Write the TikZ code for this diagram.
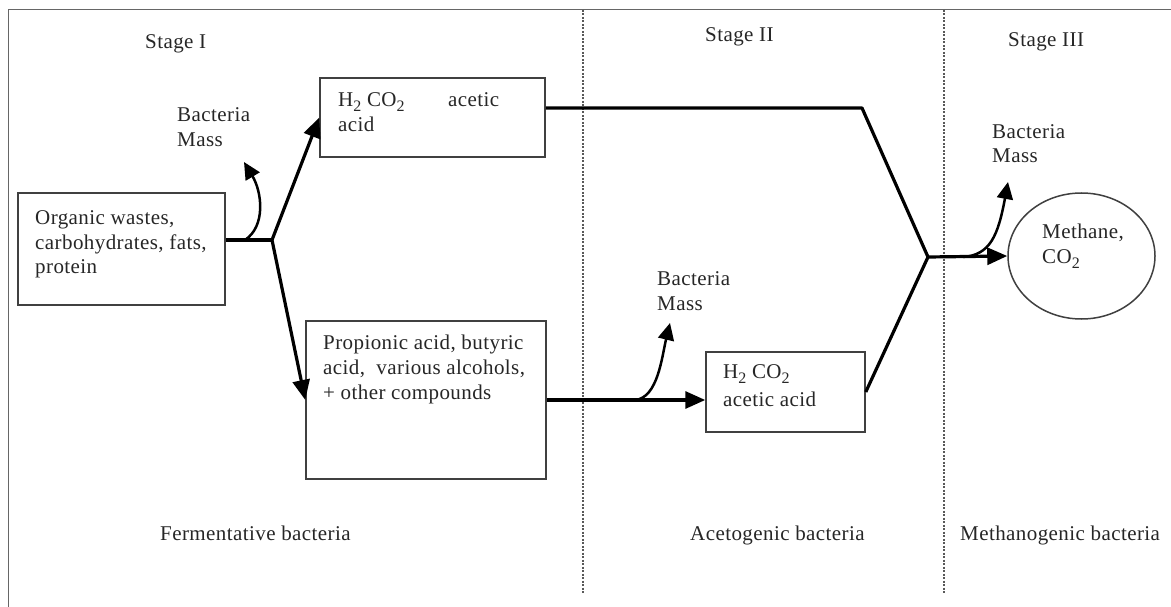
\documentclass[tikz,border=0pt]{standalone}
\usepackage{fontspec}
\setmainfont{Liberation Serif}[LetterSpace=2]
\usetikzlibrary{arrows.meta,shapes.geometric,calc}
\newcommand\lowsub[1]{\raisebox{-5pt}{\fontsize{16}{16}\selectfont #1}}
\begin{document}
\begin{tikzpicture}[x=1pt,y=-1pt,
  txt/.style={font=\fontsize{21}{24}\selectfont, inner sep=0pt, anchor=base west, text=black!85},
  box/.style={draw=black!75, line width=1.5pt, rectangle, inner sep=0pt},
  frameline/.style={draw=black!60, line width=1pt},
  divider/.style={draw=black!65, line width=1.1pt, dash pattern=on 2pt off 1.5pt},
  conn/.style={draw=black, line width=3.2pt},
  arr/.style={conn, -{Triangle[length=20pt,width=17pt]}},
  curvearr/.style={draw=black, line width=2.5pt, -{Triangle[length=17pt,width=16pt]}}
]
\useasboundingbox (0,0) rectangle (1171,607);
% frame and stage dividers
\draw[frameline] (8,607) -- (8,10) -- (1171,10);
\draw[divider] (583,10) -- (583,593);
\draw[divider] (944,10) -- (944,593);

% stage headings
\node[txt] (s1) at (145,49) {Stage I};
\node[txt] (s2) at (705,42) {Stage II};
\node[txt] (s3) at (1008,47) {Stage III};

% boxes
\node[box, minimum width=207pt, minimum height=112pt] (org) at (121.5,249) {};
\node[box, minimum width=225pt, minimum height=79pt] (top) at (432.5,117.5) {};
\node[box, minimum width=240pt, minimum height=158pt] (prop) at (426,400) {};
\node[box, minimum width=159pt, minimum height=80pt] (small) at (785.5,392) {};
\node[draw=black!75, line width=1.5pt, ellipse, minimum width=147pt, minimum height=126pt, inner sep=0pt] (meth) at (1081.5,256) {};

% box texts
\node[txt] (org1) at (35,225) {Organic wastes,};
\node[txt] (org2) at (35,249) {carbohydrates, fats,};
\node[txt] (org3) at (35,273) {protein};
\node[txt] (top1) at (338,107) {\makebox[110pt][l]{H\lowsub{2} CO\lowsub{2}}acetic};
\node[txt] (top2) at (338,132) {acid};
\node[txt] (prop1) at (323,349) {Propionic acid, butyric};
\node[txt] (prop2) at (323,374) {acid,\ \ various alcohols,};
\node[txt] (prop3) at (323,399) {+ other compounds};
\node[txt] (small1) at (723,378) {H\lowsub{2} CO\lowsub{2}};
\node[txt] (small2) at (723,406) {acetic acid};
\node[txt] (meth1) at (1042,238) {Methane,};
\node[txt] (meth2) at (1042,263) {CO\lowsub{2}};

% bacteria mass labels
\node[txt] (bm1a) at (177,122) {Bacteria};
\node[txt] (bm1b) at (177,147) {Mass};
\node[txt] (bm2a) at (657,285) {Bacteria};
\node[txt] (bm2b) at (657,310) {Mass};
\node[txt] (bm3a) at (992,139) {Bacteria};
\node[txt] (bm3b) at (992,163) {Mass};

% bacteria type labels
\node[txt] (b1) at (160,540) {Fermentative bacteria};
\node[txt] (b2) at (690,540) {Acetogenic bacteria};
\node[txt] (b3) at (960,540) {Methanogenic bacteria};

% junction coordinates
\coordinate (J1) at (272,240);
\coordinate (K) at (862,108);
\coordinate (J2) at (928,257);
\coordinate (L0) at (245,240);
\coordinate (L1) at (244,162);
\coordinate (M0) at (635,400);
\coordinate (M1) at (670,323);
\coordinate (R0) at (963,257);
\coordinate (R1) at (1008,182);

% connectors
\draw[conn, line width=4pt] (org.east |- J1) -- (J1);
\draw[arr] (J1) -- (top.west);
\draw[arr] (J1) -- (prop.west);
\draw[arr] (prop.east) -- (small.west |- prop.east);
\draw[conn, line join=round] (top.east |- K) -- (K) -- (J2);
\draw[conn] (small.east) -- (J2);
\draw[arr] (J2) -- (meth.west);

% bacteria mass arrows
\draw[curvearr] (L0) .. controls (266,226) and (262,192) .. (L1);
\draw[curvearr] (M0) .. controls (658,398) and (662,356) .. (M1);
\draw[curvearr] (R0) .. controls (990,255) and (998,236) .. (R1);
\end{tikzpicture}
\end{document}
